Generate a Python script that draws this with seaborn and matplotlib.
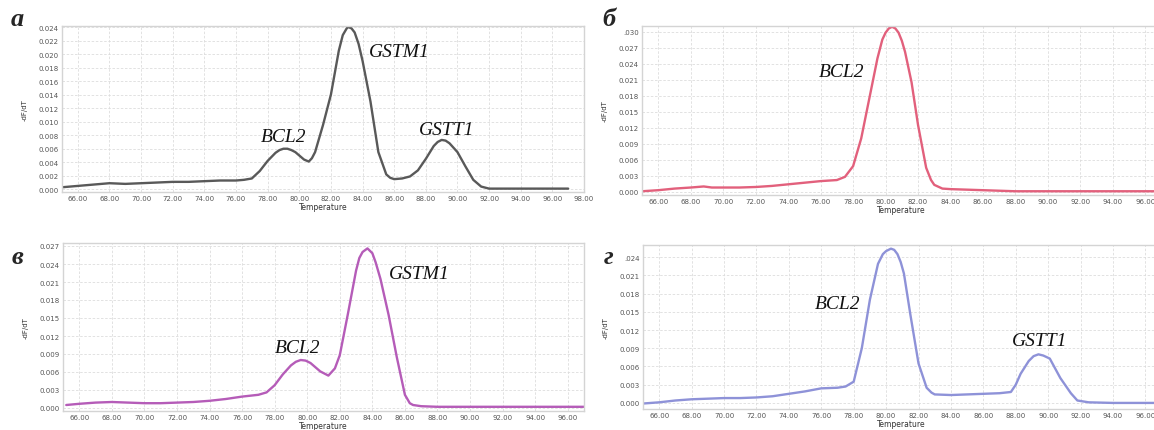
import matplotlib
matplotlib.use("Agg")
import matplotlib.pyplot as plt
import seaborn as sns
from matplotlib.ticker import MultipleLocator, FuncFormatter

# melting curves (temperature, -dF/dT)
temp_a = [65, 66, 67, 68, 69, 70, 71, 72, 73, 74, 75, 76, 76.5, 77, 77.5, 78, 78.5, 78.75, 79, 79.25, 79.5,
          79.75, 80, 80.3, 80.6, 80.8, 81, 81.5, 82, 82.5, 82.75, 83, 83.1, 83.3, 83.5, 83.75, 84, 84.5, 85,
          85.5, 85.75, 86, 86.5, 87, 87.5, 88, 88.5, 88.75, 89, 89.25, 89.5, 90, 90.5, 91, 91.5, 92, 94, 97]
dfdt_a = [0.0003, 0.0005, 0.0007, 0.0009, 0.0008, 0.0009, 0.0010, 0.0011, 0.0011, 0.0012, 0.0013, 0.0013,
          0.0014, 0.0016, 0.0027, 0.0042, 0.0054, 0.0058, 0.0060, 0.0060, 0.0058, 0.0055, 0.0050, 0.0044,
          0.0041, 0.0046, 0.0055, 0.0095, 0.0140, 0.0205, 0.0228, 0.0238, 0.0240, 0.0238, 0.0232, 0.0215,
          0.0190, 0.0130, 0.0055, 0.0022, 0.0017, 0.0015, 0.0016, 0.0019, 0.0028, 0.0045, 0.0064, 0.0070,
          0.0073, 0.0072, 0.0068, 0.0055, 0.0034, 0.0014, 0.0004, 0.0001, 0.0001, 0.0001]

temp_b = [65, 66, 67, 68, 68.8, 69.3, 70, 71, 72, 73, 74, 75, 76, 77, 77.5, 78, 78.5, 79, 79.5, 79.8, 80,
          80.2, 80.4, 80.6, 80.8, 81, 81.2, 81.6, 82, 82.5, 82.8, 83, 83.5, 84, 85, 86, 87, 88, 90, 96.6]
dfdt_b = [0.0001, 0.0003, 0.0006, 0.0008, 0.0010, 0.0008, 0.0008, 0.0008, 0.0009, 0.0011, 0.0014, 0.0017,
          0.0020, 0.0022, 0.0028, 0.0048, 0.0100, 0.0175, 0.0250, 0.0285, 0.0298, 0.0306, 0.0309, 0.0306,
          0.0298, 0.0283, 0.0262, 0.0205, 0.0125, 0.0045, 0.0022, 0.0013, 0.0006, 0.0005, 0.0004, 0.0003,
          0.0002, 0.0001, 0.0001, 0.0001]

temp_c = [65.2, 66, 67, 68, 69, 70, 71, 72, 73, 74, 75, 76, 77, 77.5, 78, 78.5, 79, 79.3, 79.6, 79.9, 80.2,
          80.5, 80.8, 81.3, 81.7, 82, 82.5, 83, 83.2, 83.4, 83.7, 84, 84.2, 84.5, 85, 85.5, 86, 86.3, 86.5,
          87, 88, 90, 97]
dfdt_c = [0.0005, 0.0007, 0.0009, 0.0010, 0.0009, 0.0008, 0.0008, 0.0009, 0.0010, 0.0012, 0.0015, 0.0019,
          0.0022, 0.0026, 0.0038, 0.0056, 0.0071, 0.0077, 0.0080, 0.0079, 0.0075, 0.0068, 0.0061, 0.0054,
          0.0066, 0.0088, 0.0157, 0.0229, 0.0250, 0.0260, 0.0266, 0.0258, 0.0243, 0.0215, 0.0155, 0.0085,
          0.0022, 0.0008, 0.0005, 0.0003, 0.0002, 0.0002, 0.0002]

temp_d = [65, 66, 67, 68, 69, 70, 71, 72, 73, 74, 75, 76, 77, 77.5, 78, 78.5, 79, 79.5, 79.8, 80, 80.3,
          80.5, 80.7, 80.9, 81.1, 81.5, 82, 82.5, 82.8, 83, 84, 85, 86, 87, 87.7, 88, 88.3, 88.8, 89.1, 89.4,
          89.7, 90.1, 90.75, 91.4, 91.8, 92.5, 94, 96.6]
dfdt_d = [-0.0001, 0.0001, 0.0004, 0.0006, 0.0007, 0.0008, 0.0008, 0.0009, 0.0011, 0.0015, 0.0019, 0.0024,
          0.0025, 0.0027, 0.0035, 0.0090, 0.0170, 0.0229, 0.0245, 0.0250, 0.0254, 0.0252, 0.0245, 0.0232,
          0.0213, 0.0145, 0.0065, 0.0025, 0.0017, 0.0014, 0.0013, 0.0014, 0.0015, 0.0016, 0.0018, 0.0030,
          0.0048, 0.0069, 0.0077, 0.0080, 0.0078, 0.0073, 0.0041, 0.0016, 0.0004, 0.0001, 0.0000, 0.0000]

letters = ["а", "б", "в", "г"]
gene_labels = [
    [("BCL2", 79.0, 0.0078), ("GSTM1", 86.3, 0.0204), ("GSTT1", 89.3, 0.0089)],
    [("BCL2", 77.3, 0.0226)],
    [("BCL2", 79.4, 0.0101), ("GSTM1", 86.9, 0.0224)],
    [("BCL2", 77.0, 0.0164), ("GSTT1", 89.5, 0.0102)],
]

sns.set_style("whitegrid")
plt.rcParams['font.family'] = ['DejaVu Sans']

W, H = 1154, 431
fig = plt.figure(figsize=(W / 100, H / 100), dpi=100)


def px_axes(x0, y0, x1, y1):
    return fig.add_axes([x0 / W, 1 - y1 / H, (x1 - x0) / W, (y1 - y0) / H])


# pixel rectangles, x limits, y limits, y step, colour
panels = [
    ((62, 27, 584, 193), (65, 98), (-0.0004, 0.02415), 0.002, "#595959", temp_a, dfdt_a, None),
    ((642, 27, 1160, 196), (65, 96.9), (-0.0006, 0.03105), 0.003, "#e2607c", temp_b, dfdt_b, ".030"),
    ((63, 244, 584, 412), (65, 97), (-0.0005, 0.0275), 0.003, "#b55cb8", temp_c, dfdt_c, None),
    ((643, 246, 1160, 410), (65, 96.9), (-0.001, 0.026), 0.003, "#8e92d8", temp_d, dfdt_d, ".024"),
]

for i, (rect, xl, yl, ystep, col, tx, vy, toplab) in enumerate(panels):
    ax = px_axes(*rect)
    sns.lineplot(x=tx, y=vy, ax=ax, color=col, lw=1.7)
    ax.set_xlim(*xl)
    ax.set_ylim(*yl)
    ax.xaxis.set_major_locator(MultipleLocator(2))
    ax.yaxis.set_major_locator(MultipleLocator(ystep))
    ax.xaxis.set_major_formatter(FuncFormatter(lambda v, p: f"{v:.2f}"))
    top = max(t for t in ax.get_yticks() if t <= yl[1] + 1e-9)

    def yfmt(v, p, top=top, toplab=toplab):
        if toplab and abs(v - top) < 1e-9:
            return toplab
        return f"{abs(v):.3f}"
    ax.yaxis.set_major_formatter(FuncFormatter(yfmt))
    ax.tick_params(labelsize=5, colors="#555555", length=0, pad=2.5)
    ax.grid(True, color="#dddddd", ls=(0, (3, 2)), lw=0.6)
    for s in ax.spines.values():
        s.set_color("#d4d4d4")
        s.set_linewidth(1.0)
    ax.set_xlabel("Temperature", fontsize=5.5, color="#333333", labelpad=0.5)
    ax.set_ylabel("-dF/dT", fontsize=5, color="#333333", labelpad=8)

    for name, gx, gy in gene_labels[i]:
        ax.text(gx, gy, name, fontsize=14, style="italic", family="Liberation Serif",
                ha="center", va="center", color="#111111")

    lx = 17 if i % 2 == 0 else 609
    ly = 20 if i < 2 else 257
    fig.text(lx / W, 1 - ly / H, letters[i], fontsize=19, weight="bold", style="italic",
             family="Liberation Serif", ha="center", va="center")

fig.savefig("out.png", dpi=100)
